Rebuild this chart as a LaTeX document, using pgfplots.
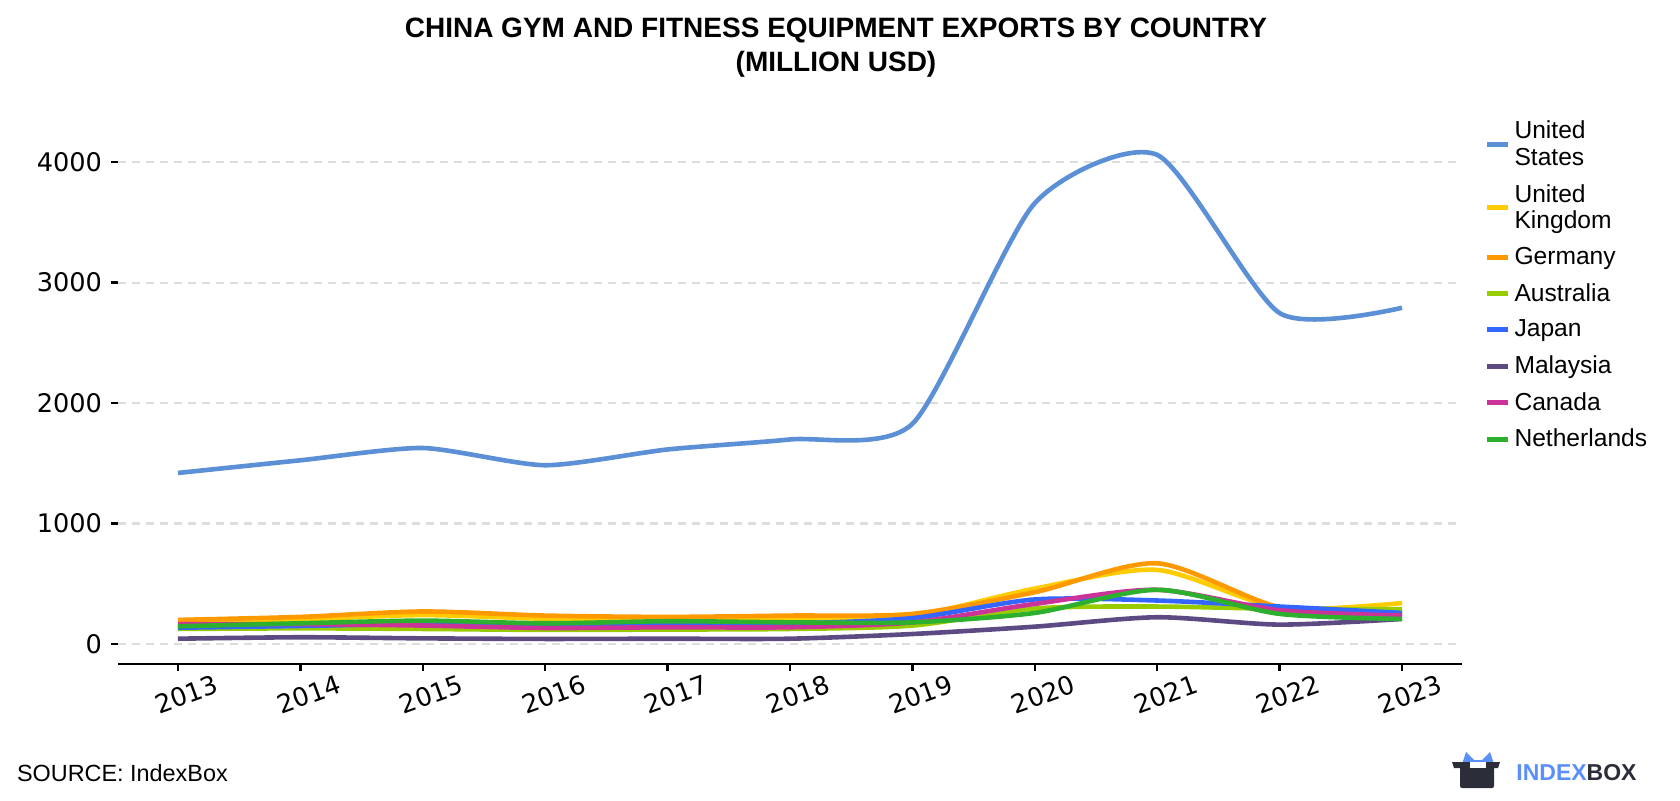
\documentclass[border=0pt]{standalone}
\usepackage{pgfplots}
\pgfplotsset{compat=1.18}
\usepackage{fontspec}
\setmainfont{Liberation Sans}
\newfontfamily\tickfont{DejaVu Sans}
\definecolor{cUS}{HTML}{5B8FD6}
\definecolor{cUK}{HTML}{FFCC00}
\definecolor{cDE}{HTML}{FF9900}
\definecolor{cAU}{HTML}{99CC00}
\definecolor{cJP}{HTML}{3366FF}
\definecolor{cMY}{HTML}{5E4A82}
\definecolor{cCA}{HTML}{CC3399}
\definecolor{cNL}{HTML}{2DB02D}
\definecolor{gridc}{HTML}{DDDDDD}
\definecolor{ibblue}{HTML}{5B8FF9}
\definecolor{ibdark}{HTML}{2B2D38}
\begin{document}
\begin{tikzpicture}
\useasboundingbox (0pt,0pt) rectangle (840pt,400pt);
\node[font=\bfseries\fontsize{14}{17}\selectfont, align=center] at (418pt,376pt) {CHINA GYM AND FITNESS EQUIPMENT EXPORTS BY COUNTRY\\(MILLION USD)};
\node[font=\fontsize{11.7}{13}\selectfont, anchor=west] at (5pt,13.5pt) {SOURCE: IndexBox};
% logo
\fill[ibblue] (731pt,18pt) -- (733pt,24pt) -- (737pt,20pt) -- (741pt,20pt) -- (745pt,24pt) -- (747pt,18pt) -- cycle;
\fill[ibdark] (726pt,19pt) -- (750pt,19pt) -- (749pt,16pt) -- (747pt,16pt) -- (747pt,8pt) [rounded corners=1pt] -- (747pt,6pt) -- (730pt,6pt) [sharp corners] -- (730pt,16pt) -- (727pt,16pt) -- cycle;
\fill[white] (735pt,16pt) rectangle (743pt,19pt);
\node[anchor=west, font=\bfseries\fontsize{11.5}{13}\selectfont, inner sep=0pt] at (758pt,13.5pt) {\textcolor{ibblue}{INDEX}\textcolor{ibdark}{BOX}};
\begin{axis}[
  at={(59pt,68pt)}, anchor=south west,
  scale only axis, width=672pt, height=269pt,
  xmin=2012.51, xmax=2023.49, ymin=-166, ymax=4300,
  axis x line*=bottom, axis y line*=left,
  x axis line style={black, line width=1.3pt, -},
  y axis line style={draw=none},
  xtick={2013,...,2023},
  xticklabels={2013,2014,2015,2016,2017,2018,2019,2020,2021,2022,2023},
  ytick={0,1000,2000,3000,4000},
  ymajorgrids,
  grid style={gridc, line width=1.1pt, dash pattern=on 4.2pt off 2.8pt},
  xtick style={black, line width=1.2pt},
  ytick style={black, line width=1.2pt},
  major tick length=3.5pt,
  xtick align=outside, ytick align=outside,
  tick label style={font=\tickfont\fontsize{12.8}{14}\selectfont},
  /pgf/number format/assume math mode=true,
  /pgf/number format/1000 sep={},
  xticklabel style={rotate=20, anchor=north, yshift=-4pt},
  yticklabel style={xshift=-1pt},
  legend style={at={(1.012,1.025)}, anchor=north west, draw=none, fill=none,
    font=\fontsize{12.3}{13.3}\selectfont, row sep=3.9pt,
    cells={align=left, anchor=west}},
  legend image code/.code={\draw[line width=2.5pt] (0pt,0pt) -- (10.5pt,0pt);},
  every axis plot/.append style={line width=2.3pt, smooth, tension=0.45},
  clip=false,
]
\addplot[cUS, tension=0.4] coordinates {(2013,1420)(2014,1525)(2015,1627)(2016,1484)(2017,1615)(2018,1698)(2019,1828)(2020,3660)(2021,4060)(2022,2747)(2023,2791)};
\addlegendentry{United\\States}
\addplot[cUK] coordinates {(2013,185)(2014,205)(2015,240)(2016,210)(2017,205)(2018,215)(2019,236)(2020,460)(2021,615)(2022,300)(2023,340)};
\addlegendentry{United\\Kingdom}
\addplot[cDE] coordinates {(2013,200)(2014,225)(2015,270)(2016,236)(2017,225)(2018,236)(2019,250)(2020,430)(2021,670)(2022,305)(2023,250)};
\addlegendentry{Germany}
\addplot[cAU] coordinates {(2013,125)(2014,130)(2015,125)(2016,117)(2017,120)(2018,125)(2019,153)(2020,295)(2021,311)(2022,292)(2023,290)};
\addlegendentry{Australia}
\addplot[cJP] coordinates {(2013,135)(2014,150)(2015,165)(2016,150)(2017,160)(2018,170)(2019,215)(2020,370)(2021,361)(2022,311)(2023,258)};
\addlegendentry{Japan}
\addplot[cMY] coordinates {(2013,44)(2014,56)(2015,47)(2016,42)(2017,44)(2018,44)(2019,83)(2020,144)(2021,222)(2022,161)(2023,208)};
\addlegendentry{Malaysia}
\addplot[cCA] coordinates {(2013,165)(2014,165)(2015,153)(2016,133)(2017,139)(2018,139)(2019,180)(2020,333)(2021,450)(2022,280)(2023,236)};
\addlegendentry{Canada}
\addplot[cNL] coordinates {(2013,147)(2014,172)(2015,194)(2016,172)(2017,189)(2018,180)(2019,180)(2020,258)(2021,450)(2022,250)(2023,208)};
\addlegendentry{Netherlands}
\end{axis}
\end{tikzpicture}
\end{document}
